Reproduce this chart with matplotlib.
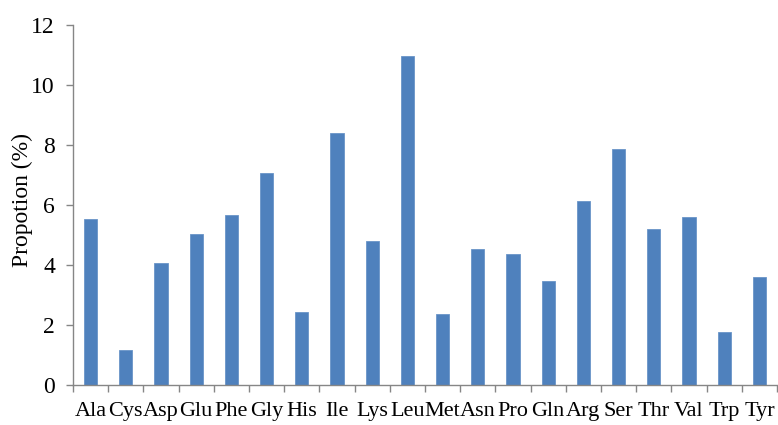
import matplotlib
matplotlib.use("Agg")
import matplotlib.pyplot as plt
import numpy as np

categories = ["Ala", "Cys", "Asp", "Glu", "Phe", "Gly", "His", "Ile", "Lys", "Leu",
              "Met", "Asn", "Pro", "Gln", "Arg", "Ser", "Thr", "Val", "Trp", "Tyr"]
values = [5.53, 1.17, 4.08, 5.02, 5.67, 7.06, 2.42, 8.39, 4.81, 10.98,
          2.37, 4.54, 4.37, 3.47, 6.12, 7.87, 5.21, 5.60, 1.77, 3.61]
y_ticks = [0, 2, 4, 6, 8, 10, 12]

plt.rcParams['font.family'] = ['Liberation Serif', 'DejaVu Serif']

fig = plt.figure(figsize=(7.78, 4.25), dpi=100)
ax = fig.add_axes([73/778, 1-385/425, 704/778, 360/425])

x = np.arange(len(categories))
ax.bar(x, values, width=0.38, color='#4F81BD', edgecolor='#6A95C8', linewidth=0.6, zorder=2)

ax.set_xlim(-0.5, len(categories) - 0.5)
ax.set_ylim(0, 12)
ax.set_yticks(y_ticks)
ax.set_yticklabels([str(t) for t in y_ticks], fontsize=17)
ax.set_xticks(x)
ax.set_xticklabels(categories, fontsize=16)
ax.set_xticks(np.arange(-0.5, len(categories), 1.0), minor=True)
ax.tick_params(axis='x', which='major', length=0, pad=12)
ax.tick_params(axis='x', which='minor', length=5, color='#868686', width=1)
ax.tick_params(axis='y', which='major', length=5, color='#868686', width=1, pad=8)

for s in ['top', 'right']:
    ax.spines[s].set_visible(False)
for s in ['left', 'bottom']:
    ax.spines[s].set_color('#868686')
    ax.spines[s].set_linewidth(1)

ax.set_ylabel('Propotion (%)', fontsize=17)
ax.yaxis.set_label_coords((33 - 73) / 704, (385 - 200) / 360)

fig.savefig('out.png', dpi=100)
